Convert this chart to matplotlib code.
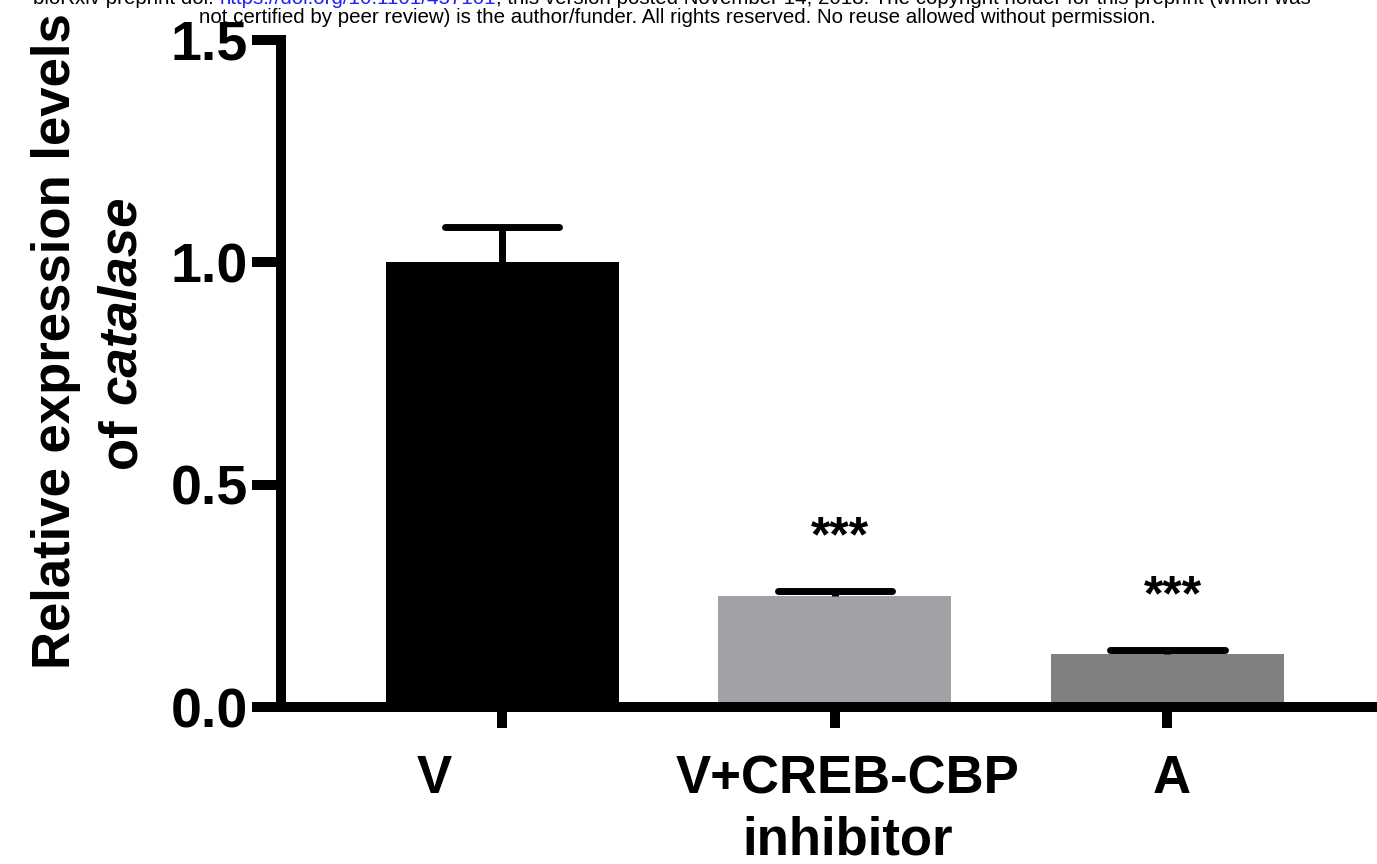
import matplotlib
matplotlib.use("Agg")
import matplotlib.pyplot as plt
from matplotlib.transforms import ScaledTranslation
import numpy as np

# ---- data -------------------------------------------------------------
groups = ["V", "V+CREB-CBP\ninhibitor", "A"]
means = [1.0, 0.25, 0.12]
sem = [0.08, 0.011, 0.008]
stars = ["", "***", "***"]
bar_colors = ["#000000", "#a2a1a5", "#808080"]
yticks = [0.0, 0.5, 1.0, 1.5]
ytick_labels = ["0.0", "0.5", "1.0", "1.5"]

header_1 = ["bioRxiv preprint doi: ",
            "https://doi.org/10.1101/457101",
            "; this version posted November 14, 2018. The copyright holder for this preprint (which was"]
header_1_colors = ["black", "#1f1fff", "black"]
header_2 = ("not certified by peer review) is the author/funder. All rights reserved. "
            "No reuse allowed without permission.")

# ---- figure -----------------------------------------------------------
W, H, DPI = 1377, 864, 100
plt.rcParams["font.family"] = ["Liberation Sans", "DejaVu Sans"]

fig = plt.figure(figsize=(W / DPI, H / DPI), dpi=DPI)
fig.patch.set_facecolor("white")
ax = fig.add_axes([281 / W, (H - 707) / H, (W - 281) / W, (707 - 40) / H])

x = np.arange(len(groups))
means_a = np.array(means)
sem_a = np.array(sem)

ax.bar(x, means_a, width=0.70, color=bar_colors, zorder=2)

# upward-only error bars with rounded caps
ax.errorbar(x, means_a, yerr=[np.zeros(len(x)), sem_a], fmt="none",
            ecolor="black", elinewidth=5, capsize=0, zorder=3)
ax.hlines(means_a + sem_a, x - 0.172, x + 0.172, colors="black",
          linewidth=5, capstyle="round", zorder=3)

# significance marks
for xi, top, s in zip(x, means_a + sem_a, stars):
    if s:
        ax.annotate(s, xy=(xi, top), xytext=(4, 38), textcoords="offset points",
                    ha="center", va="center", fontsize=36, fontweight="bold")

ax.set_xlim(-0.665, 2.63)
ax.set_ylim(0, 1.5)

for side in ["top", "right"]:
    ax.spines[side].set_visible(False)
for side in ["left", "bottom"]:
    ax.spines[side].set_linewidth(7.2)
ax.spines["left"].set_capstyle("projecting")

ax.set_yticks(yticks)
ax.set_yticklabels(ytick_labels, fontweight="bold")
ax.set_xticks(x)
ax.set_xticklabels(groups, fontweight="bold", linespacing=1.3)
ax.tick_params(axis="y", length=21, width=7.2, pad=3, labelsize=40)
ax.tick_params(axis="x", length=15, width=7.2, pad=19, labelsize=38)

# horizontal nudges of the category labels (points)
label_dx = [-48.6, 9.4, 3.0]
for lab, dx in zip(ax.get_xticklabels(), label_dx):
    lab.set_transform(lab.get_transform() + ScaledTranslation(dx / 72, 0, fig.dpi_scale_trans))

# ---- y-axis title (two lines, second partly italic) -------------------
renderer = fig.canvas.get_renderer()


def text_width(s, **kw):
    t = fig.text(0, 0, s, **kw)
    w = t.get_window_extent(renderer).width
    t.remove()
    return w


ylab_kw = dict(fontsize=38, fontweight="bold")
fig.text(70 / W, (H - 341) / H, "Relative expression levels", rotation=90,
         rotation_mode="anchor", ha="center", va="baseline", **ylab_kw)

w_of = text_width("of x", **ylab_kw) - text_width("x", **ylab_kw)
w_cat = text_width("catalase", fontstyle="italic", **ylab_kw)
y0 = (H - 332) - (w_of + w_cat) / 2
fig.text(135 / W, y0 / H, "of", rotation=90, rotation_mode="anchor",
         ha="left", va="baseline", **ylab_kw)
fig.text(135 / W, (y0 + w_of) / H, "catalase", rotation=90, rotation_mode="anchor",
         ha="left", va="baseline", fontstyle="italic", **ylab_kw)

# ---- preprint header ----------------------------------------------------
hdr_fs = 14.8
widths = [text_width(s, fontsize=hdr_fs) for s in header_1]
xpos = 672 - sum(widths) / 2
for s, c, w in zip(header_1, header_1_colors, widths):
    fig.text(xpos / W, 1 - 4 / H, s, color=c, fontsize=hdr_fs,
             ha="left", va="baseline")
    xpos += w
fig.text(677 / W, 1 - 23 / H, header_2, fontsize=hdr_fs, ha="center", va="baseline")

fig.savefig("out.png", dpi=DPI)
